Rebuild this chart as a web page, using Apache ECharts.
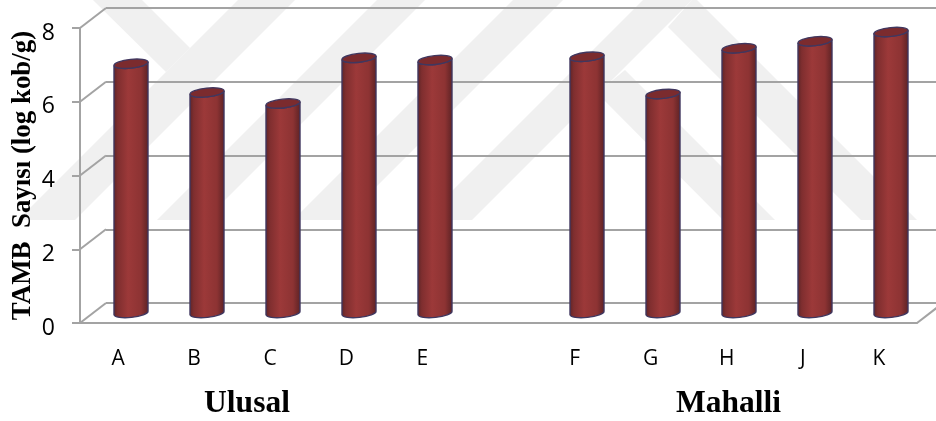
<!DOCTYPE html>
<html>
<head>
<meta charset="utf-8">
<style>html,body{margin:0;padding:0;background:#fff}#chart{width:936px;height:421px}</style>
<script src="https://cdn.jsdelivr.net/npm/echarts@6/dist/echarts.min.js"></script>
</head>
<body>
<div id="chart"></div>
<script>
// TAMB counts per product, grouped into national and local brands
var categories = ['A', 'B', 'C', 'D', 'E', '', 'F', 'G', 'H', 'J', 'K'];
var tambValues = [6.76, 5.98, 5.68, 6.92, 6.86, null, 6.95, 5.94, 7.18, 7.37, 7.62];
var valueTicks = [0, 2, 4, 6, 8];
var groupNames = ['Ulusal', 'Mahalli'];
var yAxisTitle = 'TAMB  Sayısı (log kob/g)';

// Light diagonal backdrop bands, in canvas pixels
var backdropBands = [
  [[238,0],[295,0],[75,220],[18,220]],
  [[93,0],[142,0],[190,48],[166,72]],
  [[377,0],[425,0],[205,220],[157,220]],
  [[513,0],[563,0],[343,220],[293,220]],
  [[643,0],[692,0],[472,220],[423,220]],
  [[692,0],[697,0],[917,220],[861,220],[668,27]],
  [[597,93],[625,70],[775,220],[723,220]]
];

var GRID = '#a3a3a3';
var DEPTH = [26, -20];
var BAR_HALF = 17, CAP_RY = 4.4, TILT = -6;

// Side wall and floor edges of the box around the plot
function drawWalls(params, api) {
  var c = params.coordSys, v = api.value(0);
  var y = api.coord([0, v])[1];
  var children = [{
    type: 'line',
    shape: { x1: c.x, y1: y, x2: c.x + DEPTH[0], y2: y + DEPTH[1] },
    style: { stroke: GRID, lineWidth: 2 }
  }];
  if (v === 0) {
    children.push({
      type: 'line',
      shape: { x1: c.x + c.width, y1: y, x2: c.x + c.width + DEPTH[0], y2: y + DEPTH[1] },
      style: { stroke: GRID, lineWidth: 2 }
    });
  }
  return { type: 'group', children: children };
}

function drawCylinder(params, api) {
  var val = api.value(1);
  if (isNaN(val)) return null;
  var top = api.coord([api.value(0), val]);
  var base = api.coord([api.value(0), 0]);
  var cx = top[0], r = BAR_HALF;
  var dy = r * Math.tan(TILT * Math.PI / 180);
  var lx = cx - r, rx = cx + r;
  var body = 'M' + lx + ' ' + (top[1] - dy) +
    ' L' + lx + ' ' + (base[1] - dy) +
    ' A' + r + ' ' + CAP_RY + ' ' + TILT + ' 0 0 ' + rx + ' ' + (base[1] + dy) +
    ' L' + rx + ' ' + (top[1] + dy) +
    ' A' + r + ' ' + CAP_RY + ' ' + TILT + ' 0 1 ' + lx + ' ' + (top[1] - dy) + ' Z';
  var cap = 'M' + lx + ' ' + (top[1] - dy) +
    ' A' + r + ' ' + CAP_RY + ' ' + TILT + ' 0 0 ' + rx + ' ' + (top[1] + dy) +
    ' A' + r + ' ' + CAP_RY + ' ' + TILT + ' 0 0 ' + lx + ' ' + (top[1] - dy) + ' Z';
  return {
    type: 'group',
    children: [{
      type: 'path',
      shape: { pathData: body },
      style: {
        fill: new echarts.graphic.LinearGradient(0, 0, 1, 0, [
          { offset: 0, color: '#5a2426' },
          { offset: 0.13, color: '#7f2e2f' },
          { offset: 0.42, color: '#9c3939' },
          { offset: 0.78, color: '#8d3333' },
          { offset: 1, color: '#5a2224' }
        ]),
        stroke: '#40375f',
        lineWidth: 1.4
      }
    }, {
      type: 'path',
      shape: { pathData: cap },
      style: { fill: '#7b2b2e', stroke: '#40375f', lineWidth: 1.4 }
    }]
  };
}

var chart = echarts.init(document.getElementById('chart'), null, { renderer: 'canvas' });

var graphics = backdropBands.map(function (pts) {
  return { type: 'polygon', z: -10, silent: true, shape: { points: pts }, style: { fill: '#f0f0f0' } };
});
groupNames.forEach(function (name, i) {
  graphics.push({
    type: 'text', z: 10, silent: true,
    x: i === 0 ? 247 : 728.5, y: 404,
    style: {
      text: name, align: 'center', verticalAlign: 'middle',
      font: 'bold 31.5px "Liberation Serif"', fill: '#000'
    }
  });
});

chart.setOption({
  backgroundColor: '#fff',
  animation: false,
  graphic: graphics,
  grid: [
    { left: 80, top: 28, width: 837, height: 295, outerBoundsMode: 'none' },
    { left: 106, top: 8, width: 840, height: 295, outerBoundsMode: 'none' },
    { left: 93, top: 18, width: 836, height: 295, outerBoundsMode: 'none' }
  ],
  xAxis: [
    {
      gridIndex: 0, type: 'category', data: categories,
      axisLine: { lineStyle: { color: GRID, width: 2 } },
      axisTick: { show: false },
      axisLabel: { interval: 0, margin: 26, color: '#000', fontFamily: 'Open Sans', fontSize: 21 }
    },
    { gridIndex: 1, type: 'category', data: categories, show: false },
    { gridIndex: 2, type: 'category', data: categories, show: false }
  ],
  yAxis: [
    {
      gridIndex: 0, type: 'value', min: 0, max: 8, interval: 2,
      name: yAxisTitle, nameLocation: 'middle', nameRotate: 90, nameGap: 43, nameMoveOverlap: false,
      nameTextStyle: { fontFamily: 'Liberation Serif', fontWeight: 'bold', fontSize: 26.9, color: '#000' },
      axisLine: { show: true, onZero: false, lineStyle: { color: GRID, width: 2 } },
      axisTick: { show: true, length: 8, lineStyle: { color: GRID, width: 2 } },
      axisLabel: { margin: 25, color: '#000', fontFamily: 'Open Sans', fontSize: 23, verticalAlign: 'top', lineHeight: 10 },
      splitLine: { show: false }
    },
    {
      gridIndex: 1, type: 'value', min: 0, max: 8, interval: 2,
      axisLine: { show: false }, axisTick: { show: false }, axisLabel: { show: false },
      splitLine: { show: true, lineStyle: { color: GRID, width: 2 } }
    },
    { gridIndex: 2, type: 'value', min: 0, max: 8, interval: 2, show: false, splitLine: { show: false } }
  ],
  series: [
    {
      type: 'custom', xAxisIndex: 0, yAxisIndex: 0, z: 1,
      renderItem: drawWalls,
      encode: { y: 0 },
      data: valueTicks.map(function (v) { return [v]; })
    },
    {
      type: 'custom', xAxisIndex: 2, yAxisIndex: 2, z: 5,
      renderItem: drawCylinder,
      encode: { x: 0, y: 1 },
      data: tambValues.map(function (v, i) { return v == null ? [i, '-'] : [i, v]; })
    }
  ]
});
</script>
</body>
</html>
